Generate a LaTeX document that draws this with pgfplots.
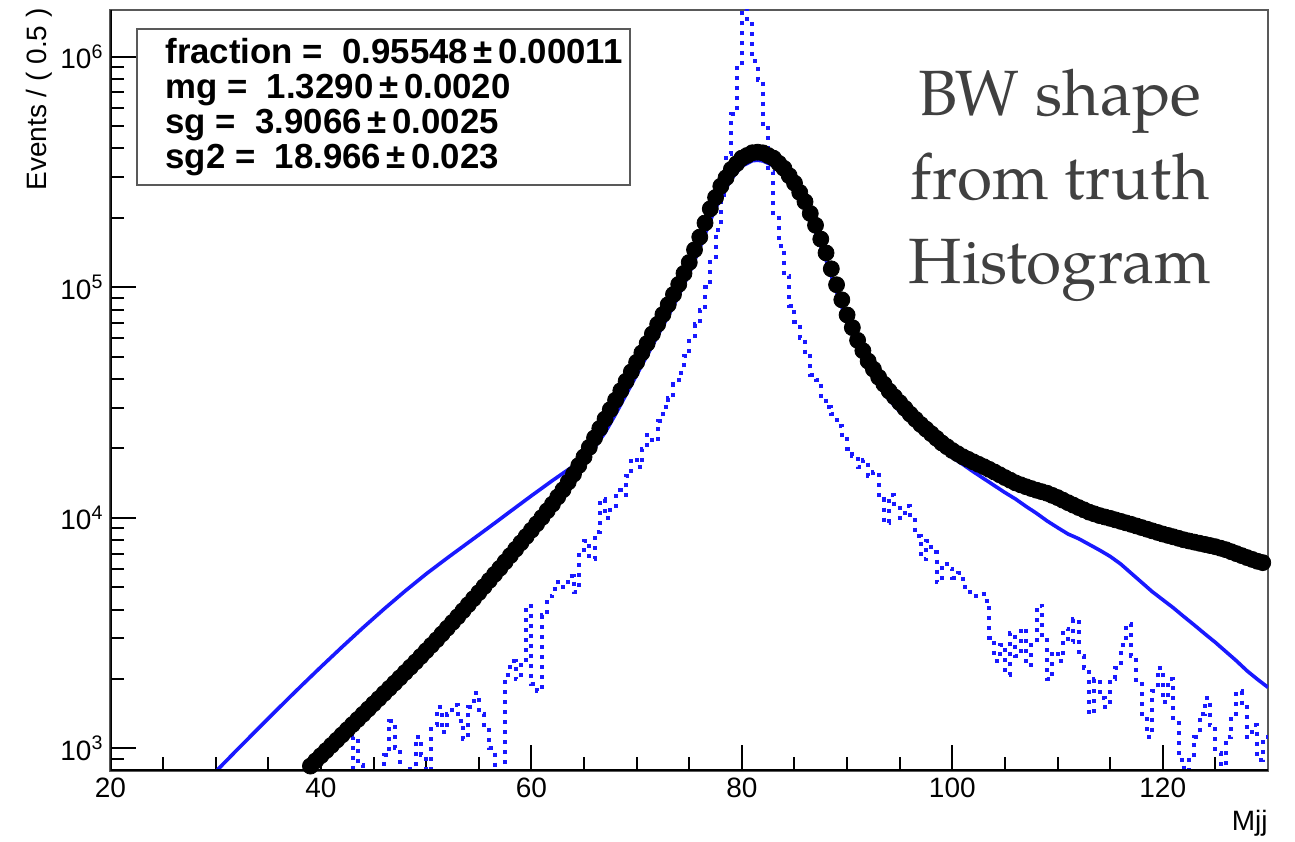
\documentclass[border=0pt]{standalone}
\usepackage{fontspec}
\setmainfont{Liberation Sans}
\newfontfamily\pala{texgyrepagella-regular.otf}
\usepackage{pgfplots}
\pgfplotsset{compat=1.18}
\usetikzlibrary{calc}
\definecolor{rootblue}{RGB}{25,25,255}
\definecolor{txtgray}{RGB}{64,64,64}
\begin{document}
\begin{tikzpicture}
\begin{axis}[
  name=ax,
  scale only axis, width=578.75pt, height=380.5pt,
  xmin=20, xmax=130, ymode=log, ymin=799, ymax=1.594e6,
  axis line style={draw=gray!70!black, line width=1pt},
  tick align=inside, tick pos=left,
  xtick={20,40,60,80,100,120},
  minor xtick={25,30,35,45,50,55,65,70,75,85,90,95,105,110,115,125},
  ytick={1000,10000,100000,1000000},
  yticklabels={10\textsuperscript{3},10\textsuperscript{4},10\textsuperscript{5},10\textsuperscript{6}},
  minor ytick={800,900,2000,3000,4000,5000,6000,7000,8000,9000,20000,30000,40000,50000,60000,70000,80000,90000,200000,300000,400000,500000,600000,700000,800000,900000},
  major tick length=13pt, minor tick length=7pt,
  tick style={black, line width=1pt},
  tick label style={font=\fontsize{14}{16}\selectfont, text=black},
  /pgf/number format/assume math mode=true,
  clip=true,
]
\addplot[only marks, mark=*, mark size=4pt, black] table {
x y
38.5 794
39 839
39.5 884
40 931
40.5 980
41 1032
41.5 1087
42 1145
42.5 1206
43 1270
43.5 1337
44 1408
44.5 1483
45 1562
45.5 1645
46 1733
46.5 1825
47 1922
47.5 2026
48 2137
48.5 2253
49 2376
49.5 2510
50 2653
50.5 2803
51 2963
51.5 3139
52 3325
52.5 3522
53 3730
53.5 3960
54 4205
54.5 4465
55 4741
55.5 5037
56 5355
56.5 5692
57 6049
57.5 6443
58 6866
58.5 7314
59 7794
59.5 8303
60 8846
60.5 9424
61 10040
61.5 10733
62 11473
62.5 12321
63 13235
63.5 14309
64 15477
64.5 16875
65 18396
65.5 20221
66 22230
66.5 24427
67 26846
67.5 29494
68 32415
68.5 35622
69 39147
69.5 43020
70 47280
70.5 51950
71 57100
71.5 62830
72 69140
72.5 76240
73 84070
73.5 93050
74 102970
74.5 114840
75 128130
75.5 145440
76 165090
76.5 190110
77 218980
77.5 245150
78 274410
78.5 298540
79 324800
79.5 343400
80 363080
80.5 373100
81 383300
81.5 385500
82 382800
82.5 372800
83 363080
83.5 345100
84 327900
84.5 304800
85 283100
85.5 257900
86 234960
86.5 208930
87 185780
87.5 161810
88 140930
88.5 120230
89 102560
89.5 88230
90 75860
90.5 66830
91 58880
91.5 53090
92 47860
92.5 44160
93 40740
93.5 38020
94 35480
94.5 33500
95 31620
95.5 29850
96 28180
96.5 26760
97 25410
97.5 24270
98 23170
98.5 22130
99 21130
99.5 20350
100 19590
100.5 18990
101 18410
101.5 17950
102 17500
102.5 17080
103 16670
103.5 16240
104 15810
104.5 15380
105 14960
105.5 14570
106 14190
106.5 13910
107 13650
107.5 13410
108 13180
108.5 12990
109 12790
109.5 12520
110 12250
110.5 11940
111 11640
111.5 11360
112 11090
112.5 10840
113 10590
113.5 10410
114 10230
114.5 10090
115 9954
115.5 9806
116 9661
116.5 9517
117 9376
117.5 9226
118 9078
118.5 8933
119 8790
119.5 8650
120 8511
120.5 8395
121 8279
121.5 8156
122 8035
122.5 7943
123 7852
123.5 7762
124 7674
124.5 7586
125 7499
125.5 7388
126 7278
126.5 7137
127 6998
127.5 6863
128 6730
128.5 6607
129 6486
129.5 6397
};
\addplot[rootblue, line width=1.8pt] table {
x y
30 794
32 984
34 1216
36 1500
38 1845
40 2259
42 2754
44 3342
46 4027
48 4819
50 5715
52 6699
54 7816
56 9120
58 10670
60 12470
62 14520
64 16790
65 18200
66 20180
67 23440
68 28180
69 34280
70 41690
71 50700
72 61660
73 74990
74 92260
75 114800
76 147900
77 195000
78 245500
79 295100
80 335000
81 354000
81.5 355600
82 353200
83 336500
84 305500
85 263000
86 218800
87 173000
88 131200
89 95500
90 70800
91 54950
92 44460
93 37330
94 32510
95 28970
96 26180
97 23710
98 21630
99 19820
100 18280
101 17060
102 15850
103 14790
104 13800
105 12880
106 12080
107 11220
108 10470
109 9705
110 9078
111 8511
112 8128
113 7674
114 7244
115 6808
116 6310
117 5754
118 5248
119 4786
120 4416
121 4074
122 3733
123 3428
124 3141
125 2884
126 2630
127 2399
128 2173
129 1995
130 1841
};
\addplot[rootblue, line width=2pt, dash pattern=on 2pt off 3pt, const plot] table {
x y
42.5 631
43 1122
43.5 851
44 661
44.5 603
45 676
45.5 741
46 933
46.5 1318
47 1000
47.5 759
48 692
48.5 832
49 1122
49.5 933
50 759
50.5 1259
51 1514
51.5 1175
52 1413
52.5 1549
53 1318
53.5 1096
54 1514
54.5 1738
55 1413
55.5 1202
56 1000
56.5 794
57 708
57.5 2089
58 2399
58.5 1995
59 2291
59.5 4169
60 1905
60.5 1778
61 3802
61.5 4571
62 4898
62.5 5248
63 5012
63.5 5623
64 4786
64.5 6918
65 7943
65.5 6607
66 8710
66.5 12023
67 10000
67.5 11220
68 13183
68.5 12589
69 15136
69.5 18197
70 16596
70.5 19953
71 22909
71.5 21380
72 26303
72.5 30200
73 33113
73.5 38019
74 42658
74.5 50119
75 60256
75.5 69183
76 79433
76.5 100000
77 134900
77.5 177830
78 251190
78.5 380190
79 562340
79.5 891250
80 1778300
80.5 1380400
81 955000
81.5 794330
82 501190
82.5 316230
83 208930
83.5 151360
84 112200
84.5 83180
85 70795
85.5 60256
86 50119
86.5 41687
87 39811
87.5 33113
88 30200
88.5 28184
89 25119
89.5 22909
90 19953
90.5 18621
91 16596
91.5 17783
92 15136
92.5 15849
93 12023
93.5 9550
94 12589
94.5 11220
95 10000
95.5 11220
96 9772
96.5 8318
97 6607
97.5 7943
98 7079
98.5 5248
99 6310
99.5 6026
100 5495
100.5 5754
101 5012
101.5 4786
102 4571
102.5 4677
103 4365
103.5 3020
104 2399
104.5 2818
105 2089
105.5 3162
106 2512
106.5 3311
107 2291
107.5 2818
108 4169
108.5 3020
109 1995
109.5 2630
110 2399
110.5 3311
111 2884
111.5 3631
112 2512
112.5 2239
113 1413
113.5 1995
114 1660
114.5 1514
115 1995
115.5 2239
116 2818
116.5 3467
117 2512
117.5 1905
118 1413
118.5 1122
119 1778
119.5 2239
120 1585
120.5 1995
121 1318
121.5 891
122 759
122.5 891
123 1122
123.5 1413
124 1660
124.5 1259
125 955
125.5 759
126 1122
126.5 1413
127 1778
127.5 1514
128 1122
128.5 1259
129 891
129.5 1122
130 1122
};
\draw[black, line width=1.5pt] (rel axis cs:0,1) -- (rel axis cs:0,0) -- (rel axis cs:1,0);
\draw[draw=gray!70!black, line width=1pt, fill=white] (rel axis cs:0.0229,0.770) rectangle (rel axis cs:0.4488,0.975);
\node[anchor=base west, inner sep=0pt, font=\bfseries\fontsize{17.4}{19}\selectfont] at (rel axis cs:0.0471,0.9297) {fraction =\ \ 0.95548\,±\,0.00011};
\node[anchor=base west, inner sep=0pt, font=\bfseries\fontsize{17.4}{19}\selectfont] at (rel axis cs:0.0471,0.8837) {mg =\ \ 1.3290\,±\,0.0020};
\node[anchor=base west, inner sep=0pt, font=\bfseries\fontsize{17.4}{19}\selectfont] at (rel axis cs:0.0471,0.8377) {sg =\ \ 3.9066\,±\,0.0025};
\node[anchor=base west, inner sep=0pt, font=\bfseries\fontsize{17.4}{19}\selectfont] at (rel axis cs:0.0471,0.7917) {sg2 =\ \ 18.966\,±\,0.023};
\node[align=center, text=txtgray, font=\pala\fontsize{32}{42}\selectfont] at (rel axis cs:0.8203,0.770) {BW shape\\from truth\\Histogram};
\end{axis}
\node[anchor=south east, inner sep=0pt, rotate=90, font=\fontsize{14}{16}\selectfont] at ($(ax.north west)+(-29pt,1pt)$) {Events / ( 0.5 )};
\node[anchor=east, inner sep=0pt, font=\fontsize{14}{16}\selectfont] at ($(ax.south east)+(0,-26pt)$) {Mjj};
\pgfresetboundingbox
\path[use as bounding box] (-55.25pt,-35pt) rectangle (592.25pt,385.5pt);
\end{tikzpicture}
\end{document}
